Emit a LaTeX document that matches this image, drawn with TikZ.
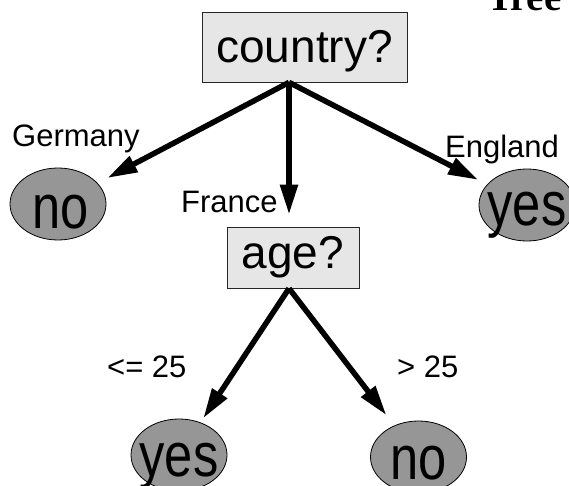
\documentclass[tikz,border=0pt]{standalone}
\usepackage{fontspec}
\setmainfont{Liberation Sans}
\newfontfamily\titlefont{Liberation Serif}
\usetikzlibrary{arrows.meta,shapes.geometric}
\definecolor{boxfill}{RGB}{230,230,230}
\definecolor{leaffill}{RGB}{150,150,150}
\begin{document}
\begin{tikzpicture}[x=1pt,y=1pt,
  testbox/.style={draw=black!85, line width=0.8pt, fill=boxfill, inner sep=0pt, text depth=0pt, font=\fontsize{46}{50}\selectfont},
  leaf/.style={ellipse, draw=black, line width=0.8pt, fill=leaffill, minimum width=96pt, minimum height=72pt, inner sep=0pt},
  leaftext/.style={inner sep=0pt, font=\fontsize{46}{50}\selectfont},
  edgelabel/.style={inner sep=0pt, anchor=base west, font=\fontsize{31}{36}\selectfont},
  arr/.style={line width=5.5pt, -{Triangle[length=30pt,width=17pt]}}]
\useasboundingbox (0,0) rectangle (569,-486);
\clip (0,0) rectangle (569,-486);

% title (cut off at the top)
\node[inner sep=0pt, anchor=base west, font=\titlefont\bfseries\fontsize{39}{44}\selectfont] (title) at (487,-11) {Tree};

% test nodes
\node[testbox, minimum width=205pt, minimum height=70pt, text height=32pt] (country) at (304.5,-47) {country?};
\node[testbox, minimum width=132pt, minimum height=61pt, text height=21pt] (age) at (293,-257.5) {age?};

% leaves
\node[leaf] (no1) at (58,-204) {};
\node[leaf] (yes1) at (527,-205) {};
\node[leaf] (yes2) at (179,-455) {};
\node[leaf] (no2) at (418.5,-457) {};
\node[leaftext] (no1t) at ([xshift=3pt,yshift=-8pt]no1.center) {\scalebox{1.1}[1.35]{no}};
\node[leaftext] (yes1t) at ([yshift=-10pt]yes1.center) {\scalebox{1.1}[1.35]{yes}};
\node[leaftext] (yes2t) at ([yshift=-11pt]yes2.center) {\scalebox{1.1}[1.35]{yes}};
\node[leaftext] (no2t) at ([yshift=-6pt]no2.center) {\scalebox{1.1}[1.35]{no}};

% branch roots
\coordinate (r1) at ([xshift=-15.5pt]country.south);
\coordinate (r2) at ([xshift=-4pt]age.south);

% connectors
\draw[arr, shorten >=11pt] (r1) -- (no1);
\draw[arr, shorten >=12pt] (r1) -- (r1 |- age.north);
\draw[arr, shorten >=10pt] (r1) -- (yes1);
\draw[arr, shorten >=5pt] (r2) -- (yes2);
\draw[arr, shorten >=13pt] (r2) -- (no2);

% edge labels
\node[edgelabel] (lg) at (12,-147) {Germany};
\node[edgelabel] (lf) at (181,-212) {France};
\node[edgelabel] (le) at (445,-158) {England};
\node[edgelabel] (ll) at (107,-377) {<= 25};
\node[edgelabel] (lr) at (397,-377) {> 25};
\end{tikzpicture}
\end{document}
